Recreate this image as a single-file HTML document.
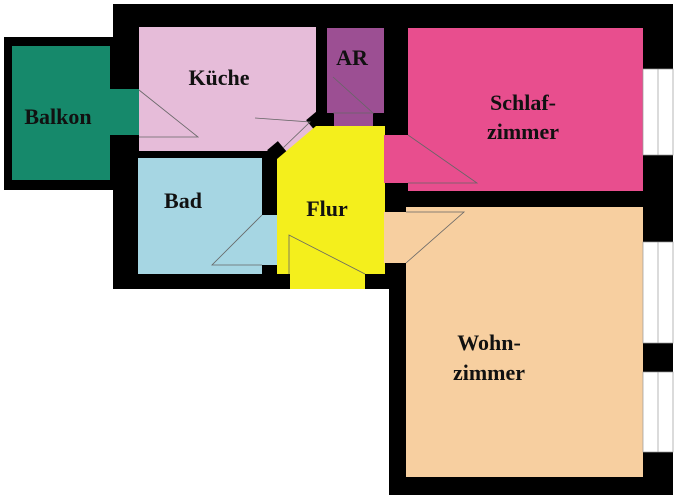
<!DOCTYPE html>
<html><head><meta charset="utf-8"><style>
html,body{margin:0;padding:0;background:#fff;width:677px;height:500px;overflow:hidden}
text{font-family:"Liberation Serif",serif;font-weight:bold;font-size:22px;fill:#111;text-anchor:middle}
</style></head><body>
<svg width="677" height="500" viewBox="0 0 677 500" xmlns="http://www.w3.org/2000/svg">
<rect x="4" y="37" width="112" height="153" fill="#000"/>
<rect x="113" y="4" width="560" height="285" fill="#000"/>
<rect x="389" y="280" width="284" height="215" fill="#000"/>
<rect x="12" y="46" width="98" height="134" fill="#16896b"/>
<rect x="108" y="89" width="32" height="46" fill="#16896b"/>
<rect x="139" y="27" width="177" height="124" fill="#e6bcd9"/>
<polygon points="283,145 309,123 322,132 292,160" fill="#e6bcd9"/>
<rect x="-7" y="-7" width="14" height="14" fill="#000" transform="translate(277,151) rotate(-40)"/>
<rect x="-7" y="-7" width="14" height="14" fill="#000" transform="translate(316,121) rotate(-40)"/>
<rect x="327" y="28" width="57" height="85" fill="#9c4f93"/>
<rect x="334" y="112" width="39" height="14" fill="#9c4f93"/>
<rect x="138" y="158" width="124" height="116" fill="#a6d6e3"/>
<rect x="261" y="215" width="16" height="50" fill="#a6d6e3"/>
<polygon points="316,126 385,126 385,274 365,274 365,289 290,289 290,274 277,274 277,159" fill="#f4ef1c"/>
<rect x="408" y="28" width="235" height="163" fill="#e84e8e"/>
<rect x="384" y="135" width="26" height="48" fill="#e84e8e"/>
<rect x="406" y="207" width="237" height="270" fill="#f7cfa0"/>
<rect x="384" y="212" width="24" height="51" fill="#f7cfa0"/>
<g fill="#fff" stroke="#999" stroke-width="0.7">
<rect x="643" y="69" width="30" height="86"/>
<rect x="643" y="242" width="30" height="101"/>
<rect x="643" y="372" width="30" height="80"/>
</g>
<g stroke="#999" stroke-width="0.7">
<line x1="658" y1="69" x2="658" y2="155"/>
<line x1="658" y1="242" x2="658" y2="343"/>
<line x1="658" y1="372" x2="658" y2="452"/>
</g>
<g fill="none" stroke="#666" stroke-width="0.8">
<polyline points="139,90 198,137 139,137"/>
<polyline points="255,118 310,122 283,148"/>
<polyline points="333,77 373,113 333,113"/>
<polyline points="262,215 212,265 262,265"/>
<polyline points="289,274 289,235 365,274"/>
<polyline points="408,135 477,183 408,183"/>
<polyline points="406,212 464,212 406,263"/>
</g>
<text x="219" y="85">Küche</text>
<text x="352" y="65">AR</text>
<text x="58" y="124">Balkon</text>
<text x="183" y="208">Bad</text>
<text x="327" y="216">Flur</text>
<text x="523" y="110">Schlaf-</text>
<text x="523" y="139">zimmer</text>
<text x="489" y="350">Wohn-</text>
<text x="489" y="380">zimmer</text>
</svg>
</body></html>
